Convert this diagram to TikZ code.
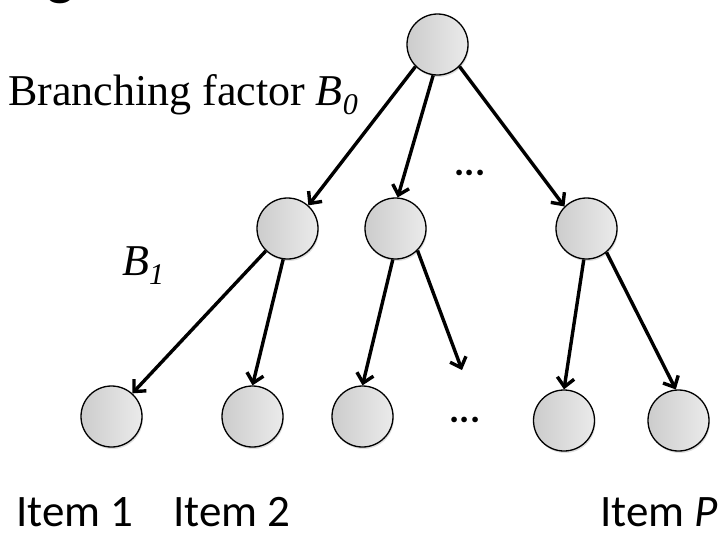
\documentclass[tikz,border=0pt]{standalone}
\usepackage{fontspec}
\setmainfont{Liberation Serif}
\newfontfamily\calib{Carlito}
\usetikzlibrary{arrows.meta,shadows}
\tikzset{
  nd/.style={circle,draw=black,line width=1.3pt,minimum size=61pt,inner sep=0pt,
    left color=black!20,right color=black!8,
    drop shadow={opacity=0.25,shadow xshift=1pt,shadow yshift=-2pt}},
  arr/.style={line width=3.4pt,-{Straight Barb[length=9pt,width=17pt]}},
  itemtxt/.style={font=\calib\fontsize{45}{50}\selectfont,inner sep=0pt,anchor=base west},
  serif/.style={font=\fontsize{44}{48}\selectfont,inner sep=0pt},
  dots/.style={font=\calib\fontsize{38}{44}\selectfont\bfseries,inner sep=0pt,anchor=base}
}
\begin{document}
\begin{tikzpicture}[x=1pt,y=-1pt]
\useasboundingbox (0,0) rectangle (725,533);
% cut-off title fragment
\node[font=\calib\fontsize{60}{60}\selectfont,inner sep=0pt,anchor=base west] (ttl) at (46,-7) {g};
% nodes
\node[nd] (r) at (437.5,44.5) {};
\node[nd] (m1) at (287.5,228.5) {};
\node[nd] (m2) at (395.5,228.5) {};
\node[nd] (m3) at (586.5,228.5) {};
\node[nd] (b1) at (111.5,416.5) {};
\node[nd] (b2) at (252.5,416.5) {};
\node[nd] (b3) at (362.5,416.5) {};
\node[nd] (b4) at (564,420.5) {};
\node[nd] (b5) at (678.5,420.5) {};
\coordinate (free) at (462,370);
% connectors
\draw[arr] (r.225) -- (m1.48);
\draw[arr] (r.262) -- (m2.86);
\draw[arr] (r.315) -- (m3.135);
\draw[arr] (m1.226) -- (b1.48);
\draw[arr] (m1.262) -- (b2.90);
\draw[arr] (m2.265) -- (b3.90);
\draw[arr] (m2.315) -- (free);
\draw[arr] (m3.265) -- (b4.90);
\draw[arr] (m3.310) -- (b5.95);
% dots
\node[dots] (d1) at (470,175) {...};
\node[dots] (d2) at (465,422) {...};
% labels
\node[serif,anchor=base east] (bf) at (358,105) {Branching factor \textit{B}\raisebox{-0.22em}{\fontsize{30}{30}\selectfont\itshape 0}};
\node[serif,anchor=base west] (b1l) at (122,275) {\textit{B}\raisebox{-0.22em}{\fontsize{30}{30}\selectfont\itshape 1}};
\node[itemtxt] (i1) at (16,526) {Item 1};
\node[itemtxt] (i2) at (173,526) {Item 2};
\node[itemtxt,anchor=base east] (ip) at (718,526) {Item \textit{P}};
\end{tikzpicture}
\end{document}
